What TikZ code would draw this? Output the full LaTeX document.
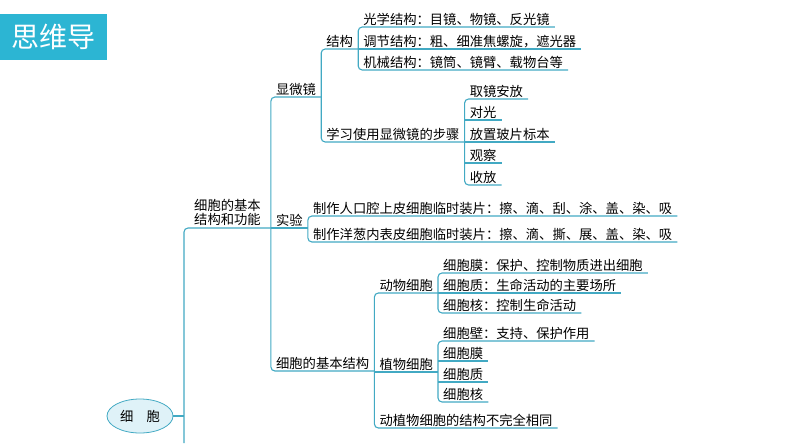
\documentclass[tikz,border=0pt]{standalone}
\usepackage{fontspec}
\newfontfamily\cjk{Noto Sans CJK SC}
\usetikzlibrary{shapes.geometric,positioning}
\definecolor{linec}{HTML}{42A9C3}
\definecolor{titlec}{HTML}{2CB5D3}
\definecolor{rootc}{HTML}{DFF2F8}

\begin{document}
\begin{tikzpicture}[x=1pt,y=-1pt,
    topic/.style={font=\cjk\fontsize{13.3}{14}\selectfont,anchor=south west,
      inner xsep=5pt,inner ysep=1pt,text height=11pt,text depth=1.5pt},
    branch/.style={draw=linec,line width=1.1pt,rounded corners=4pt},
    rootnode/.style={ellipse,draw=linec,fill=rootc,line width=0.8pt,
      minimum width=66pt,minimum height=34pt,font=\cjk\fontsize{13.3}{14}\selectfont},
    titlebox/.style={fill=titlec,text=white,anchor=north west,minimum width=107pt,
      minimum height=46pt,inner sep=0pt,font=\cjk\fontsize{28}{30}\selectfont}]
  \useasboundingbox (0,0) rectangle (794,447);

  \node[titlebox] (title) at (0,14) {思维导};
  \node[rootnode] (xibao) at (140,416) {细\quad 胞};

  % level 1
  \node[topic,align=center,inner xsep=10pt,text depth=3pt,inner ysep=0pt] (jbjg) at (184,228) {细胞的基本\\结构和功能};
  \coordinate (tail) at (jbjg.south west |- 0,443);

  % level 2
  \node[topic] (xwj) at (jbjg.south east |- 0,97) {显微镜};
  \node[topic] (sy) at (jbjg.south east |- 0,228) {实验};
  \node[topic] (jbjg2) at (jbjg.south east |- 0,371) {细胞的基本结构};

  % microscope
  \node[topic] (jg) at (xwj.south east |- 0,49) {结构};
  \node[topic] (bz) at (xwj.south east |- 0,142) {学习使用显微镜的步骤};
  \node[topic] (gx) at (jg.south east |- 0,27) {光学结构：目镜、物镜、反光镜};
  \node[topic] (tj) at (jg.south east |- 0,49) {调节结构：粗、细准焦螺旋，遮光器};
  \node[topic] (jx) at (jg.south east |- 0,70) {机械结构：镜筒、镜臂、载物台等};
  \node[topic] (s1) at (bz.south east |- 0,99) {取镜安放};
  \node[topic] (s2) at (bz.south east |- 0,120) {对光};
  \node[topic] (s3) at (bz.south east |- 0,142) {放置玻片标本};
  \node[topic] (s4) at (bz.south east |- 0,163) {观察};
  \node[topic] (s5) at (bz.south east |- 0,185) {收放};

  % experiments
  \node[topic] (sy1) at (sy.south east |- 0,216) {制作人口腔上皮细胞临时装片：擦、滴、刮、涂、盖、染、吸};
  \node[topic] (sy2) at (sy.south east |- 0,242) {制作洋葱内表皮细胞临时装片：擦、滴、撕、展、盖、染、吸};

  % cells
  \node[topic] (dw) at (jbjg2.south east |- 0,293) {动物细胞};
  \node[topic] (zw) at (jbjg2.south east |- 0,372) {植物细胞};
  \node[topic] (bt) at (jbjg2.south east |- 0,428) {动植物细胞的结构不完全相同};
  \node[topic] (dw1) at (dw.south east |- 0,273) {细胞膜：保护、控制物质进出细胞};
  \node[topic] (dw2) at (dw.south east |- 0,293) {细胞质：生命活动的主要场所};
  \node[topic] (dw3) at (dw.south east |- 0,313) {细胞核：控制生命活动};
  \node[topic] (zw1) at (zw.south east |- 0,341) {细胞壁：支持、保护作用};
  \node[topic] (zw2) at (zw.south east |- 0,361) {细胞膜};
  \node[topic] (zw3) at (zw.south east |- 0,382) {细胞质};
  \node[topic] (zw4) at (zw.south east |- 0,402) {细胞核};

  % connectors
  \draw[branch] (xibao.east) -- (xibao.east -| tail);
  \draw[branch] (jbjg.south east) -- (jbjg.south west) -- (tail);
  \draw[branch] (xwj.south east) -- (xwj.south west) -- (jbjg2.south west) -- (jbjg2.south east);
  \draw[branch] (sy.south west) -- (sy.south east);
  \draw[branch] (jg.south east) -- (jg.south west) -- (bz.south west) -- (bz.south east);
  \draw[branch] (gx.south east) -- (gx.south west) -- (jx.south west) -- (jx.south east);
  \draw[branch] (tj.south west) -- (tj.south east);
  \draw[branch] (s1.south east) -- (s1.south west) -- (s5.south west) -- (s5.south east);
  \foreach \n in {s2,s3,s4}
    \draw[branch] (\n.south west) -- (\n.south east);
  \draw[branch] (sy1.south east) -- (sy1.south west) -- (sy2.south west) -- (sy2.south east);
  \draw[branch] (dw.south east) -- (dw.south west) -- (bt.south west) -- (bt.south east);
  \draw[branch] (zw.south west) -- (zw.south east);
  \draw[branch] (dw1.south east) -- (dw1.south west) -- (dw3.south west) -- (dw3.south east);
  \draw[branch] (dw2.south west) -- (dw2.south east);
  \draw[branch] (zw1.south east) -- (zw1.south west) -- (zw4.south west) -- (zw4.south east);
  \foreach \n in {zw2,zw3}
    \draw[branch] (\n.south west) -- (\n.south east);
\end{tikzpicture}
\end{document}
